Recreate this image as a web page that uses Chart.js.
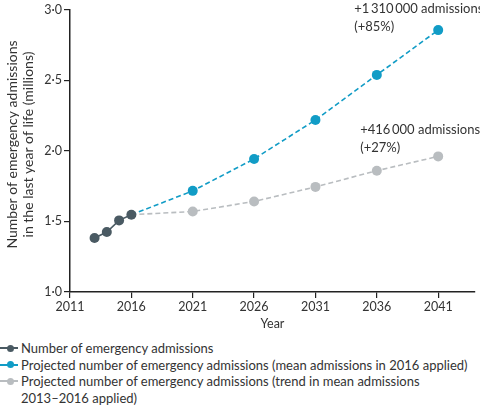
<!DOCTYPE html>
<html>
<head>
<meta charset="utf-8">
<script src="https://cdn.jsdelivr.net/npm/chart.js@4.4.1/dist/chart.umd.min.js"></script>
<style>
  html, body { margin: 0; padding: 0; background: #fff; }
  body { width: 480px; height: 408px; overflow: hidden; position: relative; font-family: Lato, "Open Sans", sans-serif; color: #333; }
  #wrap { position: absolute; left: 0; top: 0; width: 480px; height: 331px; }
  #legend { position: absolute; left: 0; top: 340px; width: 480px; font-size: 13px; line-height: 16.7px; }
  .item { position: relative; padding-left: 21px; }
  .sym { position: absolute; left: 0; top: 8px; width: 18px; height: 0; }
  .sym .ln { position: absolute; left: 0; top: -1px; width: 18px; height: 2px; }
  .sym .dt { position: absolute; left: 7px; top: -3.5px; width: 7px; height: 7px; border-radius: 50%; }
</style>
</head>
<body>
<div id="wrap"><canvas id="c" width="480" height="331"></canvas></div>
<div id="legend"></div>
<script>
const historicYears = [2013, 2014, 2015, 2016];
const historicValues = [1.382, 1.425, 1.507, 1.547];
const projYears = [2016, 2021, 2026, 2031, 2036, 2041];
const projMeanValues = [1.547, 1.716, 1.942, 2.218, 2.537, 2.854];
const projTrendValues = [1.547, 1.570, 1.641, 1.744, 1.859, 1.960];
const xTicks = [2011, 2016, 2021, 2026, 2031, 2036, 2041];
const yTicks = [1.0, 1.5, 2.0, 2.5, 3.0];
const seriesLabels = [
  'Number of emergency admissions',
  'Projected number of emergency admissions (mean admissions in 2016 applied)',
  'Projected number of emergency admissions (trend in mean admissions 2013\u20132016 applied)'
];
const yTitleLines = ['Number of emergency admissions', 'in the last year of life (millions)'];
const annotMean = ['+1\u2009310\u2009000 admissions', '(+85%)'];
const annotTrend = ['+416\u2009000 admissions', '(+27%)'];

const colDark = '#4a5a63';
const colBlue = '#119cc6';
const colGray = '#b9bdc0';
const textCol = '#333';
const fontFam = 'Lato, "Open Sans", sans-serif';

const toPts = (xs, ys) => xs.map((x, i) => ({x: x, y: ys[i]}));

const annotPlugin = {
  id: 'annot',
  afterDraw(chart) {
    const ctx = chart.ctx;
    ctx.save();
    ctx.fillStyle = textCol;
    ctx.font = '13px ' + fontFam;
    ctx.textBaseline = 'middle';
    ctx.textAlign = 'left';
    const pb = chart.getDatasetMeta(1).data.at(-1);
    ctx.fillText(annotMean[0], pb.x - 84, pb.y - 21);
    ctx.fillText(annotMean[1], pb.x - 84, pb.y - 3);
    const pg = chart.getDatasetMeta(2).data.at(-1);
    ctx.fillText(annotTrend[0], pg.x - 78, pg.y - 27);
    ctx.fillText(annotTrend[1], pg.x - 78, pg.y - 9);
    // y-axis title
    ctx.font = '14px ' + fontFam;
    ctx.textAlign = 'center';
    ctx.translate(0, 144.5);
    ctx.rotate(-Math.PI / 2);
    ctx.fillText(yTitleLines[0], 0, 12);
    ctx.fillText(yTitleLines[1], 0, 28);
    ctx.restore();
  }
};

new Chart(document.getElementById('c'), {
  type: 'line',
  data: {
    datasets: [
      {
        label: seriesLabels[0],
        data: toPts(historicYears, historicValues),
        borderColor: colDark, backgroundColor: colDark,
        borderWidth: 1.6, pointRadius: 5, pointBorderWidth: 0, pointHoverRadius: 5
      },
      {
        label: seriesLabels[1],
        data: toPts(projYears, projMeanValues),
        borderColor: colBlue, backgroundColor: colBlue,
        borderWidth: 1.6, borderDash: [5, 3], pointRadius: [0, 5, 5, 5, 5, 5], pointBorderWidth: 0
      },
      {
        label: seriesLabels[2],
        data: toPts(projYears, projTrendValues),
        borderColor: colGray, backgroundColor: colGray,
        borderWidth: 1.6, borderDash: [5, 3], pointRadius: [0, 5, 5, 5, 5, 5], pointBorderWidth: 0
      }
    ]
  },
  options: {
    responsive: false,
    animation: false,
    layout: { padding: { top: 7, right: 0, left: 0, bottom: 0 } },
    plugins: { legend: { display: false }, tooltip: { enabled: false } },
    scales: {
      x: {
        type: 'linear', min: 2011, max: 2044,
        afterBuildTicks: s => { s.ticks = xTicks.map(v => ({value: v})); },
        ticks: { callback: v => String(v), color: textCol, font: { family: fontFam, size: 12.5 }, padding: 1, maxRotation: 0, autoSkip: false },
        grid: { drawOnChartArea: false, drawTicks: true, tickLength: 6, color: '#222', lineWidth: 1.2 },
        border: { color: '#222', width: 1.5 },
        title: { display: true, text: 'Year', color: textCol, font: { family: fontFam, size: 12.5 }, padding: { top: 1, bottom: 0 } }
      },
      y: {
        min: 1, max: 3,
        afterBuildTicks: s => { s.ticks = yTicks.map(v => ({value: v})); },
        afterFit: s => { s.width = 70; },
        ticks: { callback: v => v.toFixed(1).replace('.', '\u00b7'), color: textCol, font: { family: fontFam, size: 12.5 }, padding: 2 },
        grid: { drawOnChartArea: false, drawTicks: true, tickLength: 6, color: '#222', lineWidth: 1.2 },
        border: { color: '#222', width: 1.5 },
        title: { display: false }
      }
    }
  },
  plugins: [annotPlugin]
});

const legendColors = [colDark, colBlue, colGray];
const lg = document.getElementById('legend');
const legendTexts = [seriesLabels[0], seriesLabels[1], 'Projected number of emergency admissions (trend in mean admissions<br>2013\u20132016 applied)'];
legendTexts.forEach((t, i) => {
  const d = document.createElement('div');
  d.className = 'item';
  d.innerHTML = '<span class="sym"><span class="ln" style="background:' + legendColors[i] + '"></span><span class="dt" style="background:' + legendColors[i] + '"></span></span>' + t;
  lg.appendChild(d);
});
</script>
</body>
</html>
